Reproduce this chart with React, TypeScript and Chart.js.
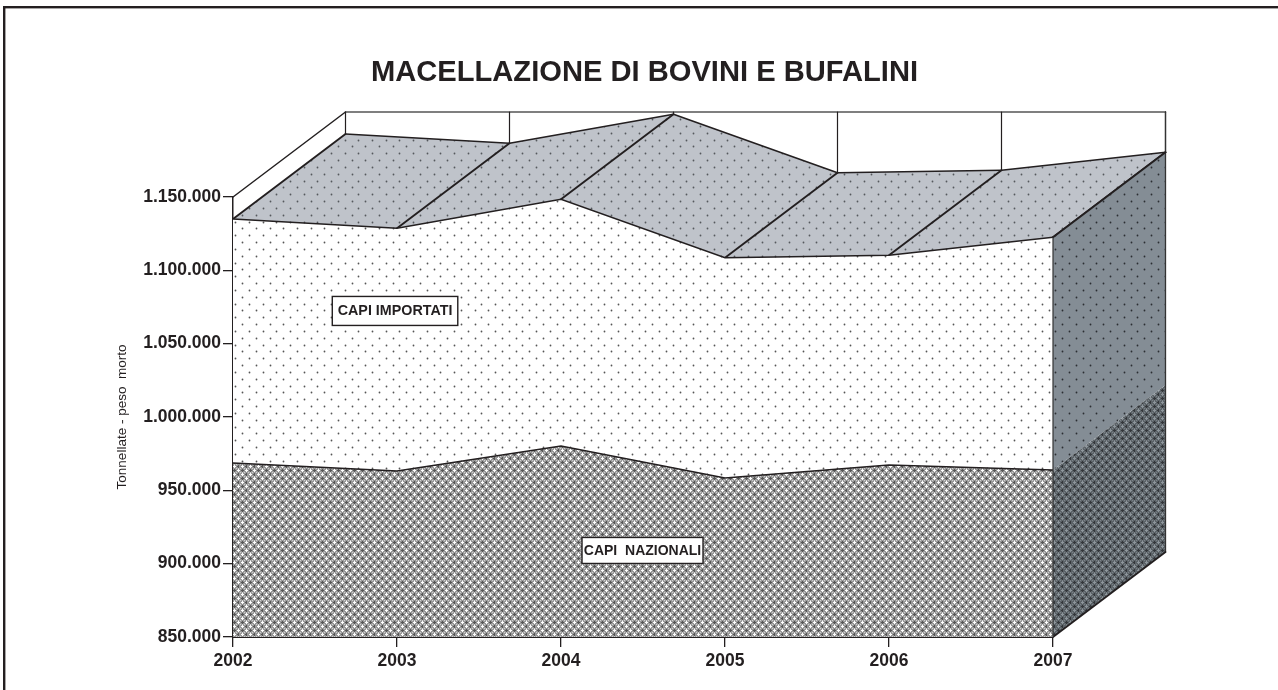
import React, { useEffect, useRef } from "react";
import { Chart, registerables } from "chart.js";

Chart.register(...registerables);

const years = ["2002", "2003", "2004", "2005", "2006", "2007"];
const capiNazionali = [968600, 963200, 980200, 958400, 967300, 963900];
const capiImportati = [166400, 165500, 168200, 150200, 143000, 158600];
const titleText = "MACELLAZIONE DI BOVINI E BUFALINI";
const yTitleText = "Tonnellate - peso  morto";
const nazionaliLabel = "CAPI  NAZIONALI";
const importatiLabel = "CAPI IMPORTATI";

const INK = "#231f20";
const FONT = "'Liberation Sans', Arial, sans-serif";
const DX = 112.5;
const DY = -85;

function makeDots(bg: string, dot: string, ctx: CanvasRenderingContext2D) {
  const c = document.createElement("canvas");
  c.width = 41;
  c.height = 41;
  const g = c.getContext("2d")!;
  g.fillStyle = bg;
  g.fillRect(0, 0, 41, 41);
  g.fillStyle = dot;
  for (let r = 0; r < 6; r++) {
    for (let k = 0; k < 3; k++) {
      const x = 3 + k * 13.67 + (r % 2 ? 6.83 : 0);
      const y = 3 + r * 6.83;
      g.beginPath();
      g.arc(Math.round(x) + 0.5, Math.round(y) + 0.5, 0.9, 0, Math.PI * 2);
      g.fill();
    }
  }
  return ctx.createPattern(c, "repeat")!;
}

const weave = [
  "12121222",
  "22022232",
  "20002332",
  "22022232",
  "12221212",
  "22322202",
  "23332000",
  "22322202",
];

function makeWeave(map: string[], ctx: CanvasRenderingContext2D) {
  const c = document.createElement("canvas");
  c.width = 8;
  c.height = 8;
  const g = c.getContext("2d")!;
  weave.forEach((row, y) => {
    row.split("").forEach((v, x) => {
      g.fillStyle = map[Number(v)];
      g.fillRect(x, y, 1, 1);
    });
  });
  return ctx.createPattern(c, "repeat")!;
}

function poly(ctx: CanvasRenderingContext2D, pts: number[][], fill?: any) {
  ctx.beginPath();
  pts.forEach((p, i) => (i ? ctx.lineTo(p[0], p[1]) : ctx.moveTo(p[0], p[1])));
  ctx.closePath();
  if (fill) {
    ctx.fillStyle = fill;
    ctx.fill();
  }
}

function seg(ctx: CanvasRenderingContext2D, a: number[], b: number[], color: string, w: number) {
  ctx.strokeStyle = color;
  ctx.lineWidth = w;
  ctx.beginPath();
  ctx.moveTo(a[0], a[1]);
  ctx.lineTo(b[0], b[1]);
  ctx.stroke();
}

function tag(ctx: CanvasRenderingContext2D, text: string, cx: number, cy: number, w: number, h: number, size: number) {
  ctx.fillStyle = "#ffffff";
  ctx.fillRect(cx - w / 2, cy - h / 2, w, h);
  ctx.strokeStyle = INK;
  ctx.lineWidth = 1.4;
  ctx.strokeRect(cx - w / 2, cy - h / 2, w, h);
  ctx.fillStyle = INK;
  ctx.font = `bold ${size}px ${FONT}`;
  ctx.textAlign = "center";
  ctx.textBaseline = "middle";
  ctx.fillText(text, cx, cy + 0.5);
}

const depthPlugin = {
  id: "depth",
  afterLayout(chart: any) {
    if (chart.titleBlock) {
      chart.titleBlock.left = 11;
      chart.titleBlock.right = 1278;
    }
  },
  beforeDatasetsDraw(chart: any) {
    const { ctx, scales } = chart;
    const x = scales.x;
    const y = scales.y;
    const n = years.length;
    const xs = years.map((_, i) => x.getPixelForValue(i));
    const totals = capiNazionali.map((v, i) => v + capiImportati[i]);
    const yTop = y.top;
    const yBot = y.bottom;
    ctx.save();
    ctx.lineCap = "round";
    ctx.lineJoin = "round";

    // back wall
    seg(ctx, [xs[0], yTop], [xs[0] + DX, yTop + DY], INK, 1.5);
    seg(ctx, [xs[0] + DX, yTop + DY], [xs[n - 1] + DX, yTop + DY], "#555555", 1.6);
    xs.forEach((px, i) => {
      seg(ctx, [px + DX, yTop + DY], [px + DX, y.getPixelForValue(totals[i]) + DY], INK, 1.2);
    });

    // top surface
    const topFill = makeDots("#bfc3ca", "#55585d", ctx);
    for (let i = 0; i < n - 1; i++) {
      const a = [xs[i], y.getPixelForValue(totals[i])];
      const b = [xs[i + 1], y.getPixelForValue(totals[i + 1])];
      poly(ctx, [a, b, [b[0] + DX, b[1] + DY], [a[0] + DX, a[1] + DY]], topFill);
    }
    for (let i = 0; i < n - 1; i++) {
      const a = [xs[i] + DX, y.getPixelForValue(totals[i]) + DY];
      const b = [xs[i + 1] + DX, y.getPixelForValue(totals[i + 1]) + DY];
      seg(ctx, a, b, INK, 1.6);
    }
    for (let i = 0; i < n; i++) {
      const p = [xs[i], y.getPixelForValue(totals[i])];
      seg(ctx, p, [p[0] + DX, p[1] + DY], INK, 1.9);
    }

    // right side
    const r = xs[n - 1];
    const nTop = y.getPixelForValue(capiNazionali[n - 1]);
    const tTop = y.getPixelForValue(totals[n - 1]);
    poly(ctx, [[r, tTop], [r + DX, tTop + DY], [r + DX, nTop + DY], [r, nTop]], makeDots("#848d95", "#2b2e32", ctx));
    poly(
      ctx,
      [[r, nTop], [r + DX, nTop + DY], [r + DX, yBot + DY], [r, yBot]],
      makeWeave(["#8e969c", "#7a8187", "#5c6368", "#33363a"], ctx)
    );
    seg(ctx, [r + DX, yTop + DY], [r + DX, yBot + DY], "#333333", 1.3);
    seg(ctx, [r, tTop], [r + DX, tTop + DY], INK, 1.9);
    seg(ctx, [r, yBot], [r + DX, yBot + DY], INK, 1.8);
    ctx.restore();
  },
  afterDatasetsDraw(chart: any) {
    const { ctx, scales } = chart;
    const x = scales.x;
    const y = scales.y;
    ctx.save();
    const n = years.length;
    const r = x.getPixelForValue(n - 1);
    seg(ctx, [r, y.getPixelForValue(capiNazionali[n - 1] + capiImportati[n - 1])], [r, y.bottom], "#333333", 1.2);
    tag(ctx, importatiLabel, x.getPixelForValue(0.988), y.getPixelForValue(1072300), 125.5, 29, 14.3);
    tag(ctx, nazionaliLabel, x.getPixelForValue(2.497), y.getPixelForValue(909000), 121, 26, 14);
    // page frame
    ctx.fillStyle = INK;
    ctx.fillRect(3, 6, 2.4, chart.height - 6);
    ctx.fillRect(3, 6, chart.width - 3, 2.4);
    ctx.restore();
  },
};

export default function App() {
  const ref = useRef<HTMLCanvasElement>(null);
  useEffect(() => {
    const canvas = ref.current!;
    const ctx = canvas.getContext("2d")!;
    const chart = new Chart(ctx, {
      type: "line",
      data: {
        labels: years,
        datasets: [
          {
            label: nazionaliLabel,
            data: capiNazionali,
            fill: "origin",
            backgroundColor: makeWeave(["#ffffff", "#cfcfcf", "#999999", "#555555"], ctx),
            borderColor: INK,
            borderWidth: 1.6,
            pointRadius: 0,
            tension: 0,
          },
          {
            label: importatiLabel,
            data: capiImportati,
            fill: "-1",
            backgroundColor: makeDots("#ffffff", "#555555", ctx),
            borderColor: INK,
            borderWidth: 1.6,
            pointRadius: 0,
            tension: 0,
          },
        ],
      },
      options: {
        responsive: false,
        animation: false,
        layout: { padding: { left: 0, right: 225, top: 0, bottom: 0 } },
        plugins: {
          legend: { display: false },
          tooltip: { enabled: false },
          title: {
            display: true,
            text: titleText,
            color: INK,
            font: { family: FONT, size: 29.15, weight: "bold", lineHeight: 1.2 },
            padding: { top: 55.5, bottom: 106.5 },
          },
        },
        scales: {
          x: {
            type: "category",
            stacked: true,
            offset: false,
            afterFit: (s: any) => {
              s.height = 53;
            },
            border: { display: true, color: INK, width: 2 },
            grid: { drawOnChartArea: false, drawTicks: true, tickLength: 10, color: INK, lineWidth: 1.3 },
            ticks: {
              color: INK,
              font: { family: FONT, size: 17.5, weight: "bold" },
              maxRotation: 0,
              autoSkip: false,
              padding: 4,
            },
          },
          y: {
            type: "linear",
            stacked: true,
            min: 850000,
            max: 1150000,
            afterFit: (s: any) => {
              s.width = 233;
            },
            border: { display: true, color: INK, width: 1.5 },
            grid: { drawOnChartArea: false, drawTicks: true, tickLength: 10, color: INK, lineWidth: 1.3 },
            ticks: {
              stepSize: 50000,
              color: INK,
              font: { family: FONT, size: 17.5, weight: "bold" },
              padding: 2,
              callback: (v: any) => String(v).replace(/\B(?=(\d{3})+(?!\d))/g, "."),
            },
            title: {
              display: true,
              text: yTitleText,
              color: INK,
              font: { family: FONT, size: 13.5, weight: "normal", lineHeight: 1.2 },
              padding: { top: 114.6, bottom: 0 },
            },
          },
        },
      },
      plugins: [depthPlugin],
    } as any);
    return () => chart.destroy();
  }, []);
  return (
    <canvas
      ref={ref}
      width={1278}
      height={690}
      style={{ position: "absolute", left: 0, top: 0, display: "block" }}
    />
  );
}
